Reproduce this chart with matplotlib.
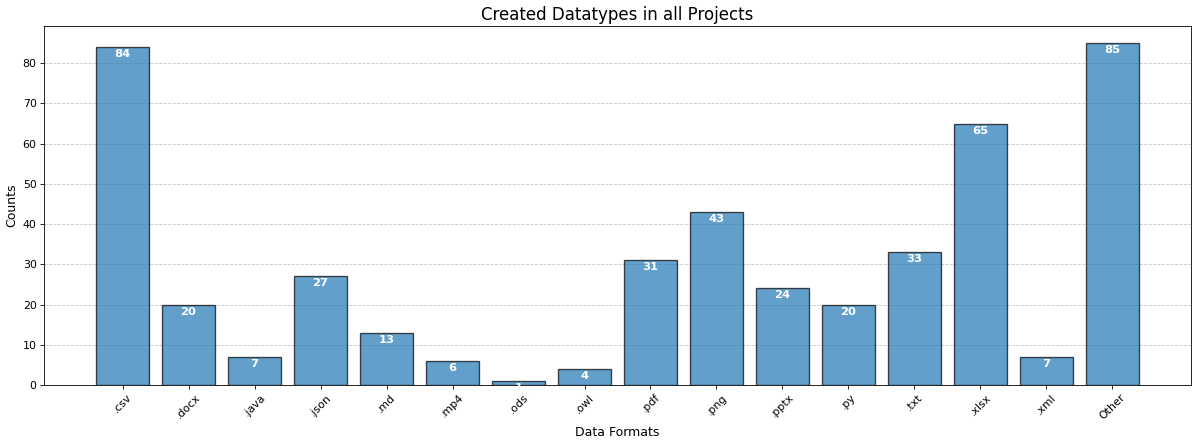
import matplotlib
matplotlib.use("Agg")
import matplotlib.pyplot as plt

formats = ['.csv', '.docx', '.java', '.json', '.md', '.mp4', '.ods', '.owl', '.pdf',
           '.png', '.pptx', '.py', '.txt', '.xlsx', '.xml', 'Other']
counts = [84, 20, 7, 27, 13, 6, 1, 4, 31, 43, 24, 20, 33, 65, 7, 85]


def plot_counts():
    fig, ax = plt.subplots(figsize=(16, 443 / 75), dpi=75)
    bars = ax.bar(formats, counts, color='tab:blue', alpha=0.7, edgecolor='black', linewidth=1.3)
    for bar, c in zip(bars, counts):
        ax.text(bar.get_x() + bar.get_width() / 2, bar.get_height() - 0.5, str(c),
                ha='center', va='top', color='white', fontweight='bold', fontsize=11)
    ax.set_title('Created Datatypes in all Projects', fontsize=16)
    ax.set_xlabel('Data Formats', fontsize=12)
    ax.set_ylabel('Counts', fontsize=12)
    plt.xticks(rotation=45, fontsize=10.5)
    plt.yticks(fontsize=10.5)
    ax.grid(axis='y', linestyle='--', alpha=0.7)
    ax.set_axisbelow(True)
    fig.subplots_adjust(left=44 / 1200, right=1191 / 1200, top=1 - 26 / 443, bottom=1 - 385 / 443)
    plt.savefig('out.png')
    plt.close(fig)


plot_counts()
